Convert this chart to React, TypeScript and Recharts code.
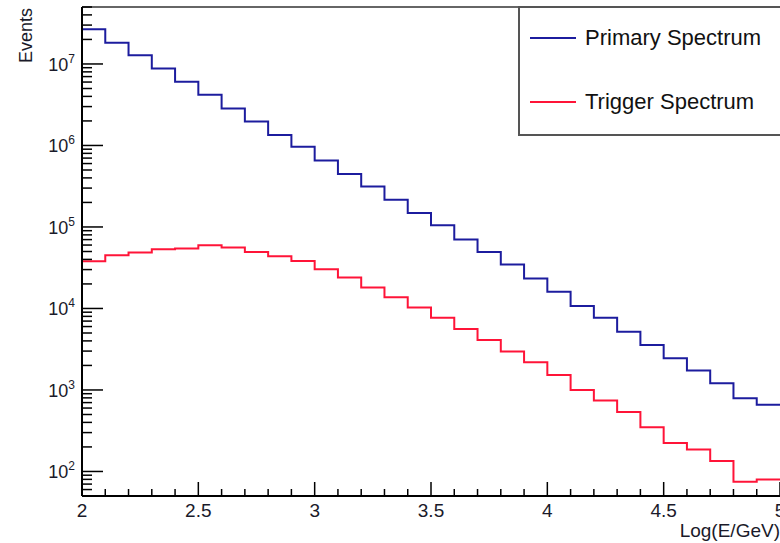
import React from "react";
import { LineChart, Line, XAxis, YAxis, ReferenceLine } from "recharts";

// bin low edges, log10(E/GeV)
const binEdges = [
  2.0, 2.1, 2.2, 2.3, 2.4, 2.5, 2.6, 2.7, 2.8, 2.9,
  3.0, 3.1, 3.2, 3.3, 3.4, 3.5, 3.6, 3.7, 3.8, 3.9,
  4.0, 4.1, 4.2, 4.3, 4.4, 4.5, 4.6, 4.7, 4.8, 4.9,
];
const xMax = 5.0;

const primary = [
  2.66e7, 1.82e7, 1.28e7, 8.77e6, 6.03e6, 4.18e6, 2.84e6, 1.97e6, 1.34e6, 9.66e5,
  6.52e5, 4.48e5, 3.13e5, 2.16e5, 1.48e5, 1.05e5, 7.0e4, 4.93e4, 3.46e4, 2.33e4,
  1.6e4, 1.07e4, 7.69e3, 5.19e3, 3.57e3, 2.45e3, 1.73e3, 1.21e3, 7.94e2, 6.59e2,
];
const trigger = [
  3.79e4, 4.5e4, 4.85e4, 5.32e4, 5.43e4, 5.96e4, 5.58e4, 4.93e4, 4.37e4, 3.83e4,
  3.03e4, 2.4e4, 1.81e4, 1.37e4, 1.03e4, 7.69e3, 5.6e3, 4.11e3, 2.96e3, 2.19e3,
  1.53e3, 1.0e3, 7.45e2, 5.37e2, 3.48e2, 2.24e2, 1.86e2, 1.34e2, 74.8, 79.8,
];

const xTicks = [
  2.0, 2.1, 2.2, 2.3, 2.4, 2.5, 2.6, 2.7, 2.8, 2.9,
  3.0, 3.1, 3.2, 3.3, 3.4, 3.5, 3.6, 3.7, 3.8, 3.9,
  4.0, 4.1, 4.2, 4.3, 4.4, 4.5, 4.6, 4.7, 4.8, 4.9, 5.0,
];
const xMajor = [2, 2.5, 3, 3.5, 4, 4.5, 5];
const yExponents = [2, 3, 4, 5, 6, 7];
const yMin = 50;
const yMax = 5e7;

const FONT = "'Liberation Sans', Arial, Helvetica, sans-serif";
const BLUE = "#1c1c9e";
const RED = "#ff1438";

// step data: last point repeats the final bin so the step reaches x=5
const data = binEdges.map((x, i) => ({ x, primary: primary[i], trigger: trigger[i] }));
data.push({ x: xMax, primary: primary[primary.length - 1], trigger: trigger[trigger.length - 1] });

const yTicks: number[] = [];
[1, ...yExponents].forEach((e) => {
  for (let k = 1; k <= 9; k++) {
    const v = k * Math.pow(10, e);
    if (v >= yMin && v <= yMax) yTicks.push(v);
  }
});

const XTick = ({ x, y, payload }: any) => {
  const v = payload.value;
  const major = xMajor.some((m) => Math.abs(m - v) < 1e-6);
  return (
    <g>
      <line x1={x} x2={x} y1={y} y2={y - (major ? 14 : 7)} stroke="#000" strokeWidth={1.5} />
      {major && (
        <text x={x} y={y + 21} textAnchor="middle" fontSize={19} fontFamily={FONT} fill="#1a1a2a">
          {String(v)}
        </text>
      )}
    </g>
  );
};

const YTick = ({ x, y, payload }: any) => {
  const v = payload.value;
  const e = Math.round(Math.log10(v));
  const major = Math.abs(Math.log10(v) - e) < 1e-6;
  return (
    <g>
      <line x1={x} x2={x + (major ? 21 : 10)} y1={y} y2={y} stroke="#000" strokeWidth={1.5} />
      {major && (
        <text x={x - 7} y={y + 7} textAnchor="end" fontSize={18} fontFamily={FONT} fill="#1a1a2a">
          10
          <tspan dy={-8} fontSize={12}>
            {e}
          </tspan>
        </text>
      )}
    </g>
  );
};

const legendItems = [
  { name: "Primary Spectrum", color: BLUE, top: 39 },
  { name: "Trigger Spectrum", color: RED, top: 103 },
];

export default function App() {
  return (
    <div
      style={{
        position: "absolute",
        left: 0,
        top: 0,
        width: 780,
        height: 543,
        overflow: "hidden",
        background: "#fff",
      }}
    >
      <LineChart width={780} height={543} data={data} margin={{ top: 7, right: 0, left: 0, bottom: 0 }}>
        <XAxis
          dataKey="x"
          type="number"
          domain={[2, xMax]}
          ticks={xTicks}
          interval={0}
          height={47}
          tickSize={0}
          tickMargin={0}
          tickLine={false}
          tick={<XTick />}
          axisLine={{ stroke: "#000", strokeWidth: 2 }}
        />
        <YAxis
          scale="log"
          type="number"
          domain={[yMin, yMax]}
          allowDataOverflow
          ticks={yTicks}
          interval={0}
          width={82}
          tickSize={0}
          tickMargin={0}
          tickLine={false}
          tick={<YTick />}
          axisLine={{ stroke: "#000", strokeWidth: 2 }}
        />
        <ReferenceLine y={yMax} stroke="#666" strokeWidth={2} />
        <Line
          type="stepAfter"
          dataKey="primary"
          stroke={BLUE}
          strokeWidth={2}
          dot={false}
          isAnimationActive={false}
        />
        <Line
          type="stepAfter"
          dataKey="trigger"
          stroke={RED}
          strokeWidth={2}
          dot={false}
          isAnimationActive={false}
        />
      </LineChart>

      <svg width={780} height={543} style={{ position: "absolute", left: 0, top: 0, pointerEvents: "none" }}>
        <text
          x={32}
          y={8}
          transform="rotate(-90 32 8)"
          textAnchor="end"
          fontSize={18}
          fontFamily={FONT}
          fill="#1a1a2a"
        >
          Events
        </text>
        <text x={780} y={537} textAnchor="end" fontSize={19} fontFamily={FONT} fill="#1a1a2a">
          Log(E/GeV)
        </text>
      </svg>

      <div
        style={{
          position: "absolute",
          left: 518,
          top: 6,
          width: 290,
          height: 130,
          boxSizing: "border-box",
          border: "2px solid #555",
          background: "#fff",
        }}
      >
        {legendItems.map((it) => (
          <div key={it.name}>
            <div
              style={{
                position: "absolute",
                left: 10,
                top: it.top - 7 - 2 - 1,
                width: 46,
                height: 2,
                background: it.color,
              }}
            />
            <div
              style={{
                position: "absolute",
                left: 65,
                top: it.top - 7 - 2 - 14,
                fontSize: 22,
                lineHeight: "28px",
                fontFamily: FONT,
                color: "#111",
                whiteSpace: "nowrap",
              }}
            >
              {it.name}
            </div>
          </div>
        ))}
      </div>
    </div>
  );
}
